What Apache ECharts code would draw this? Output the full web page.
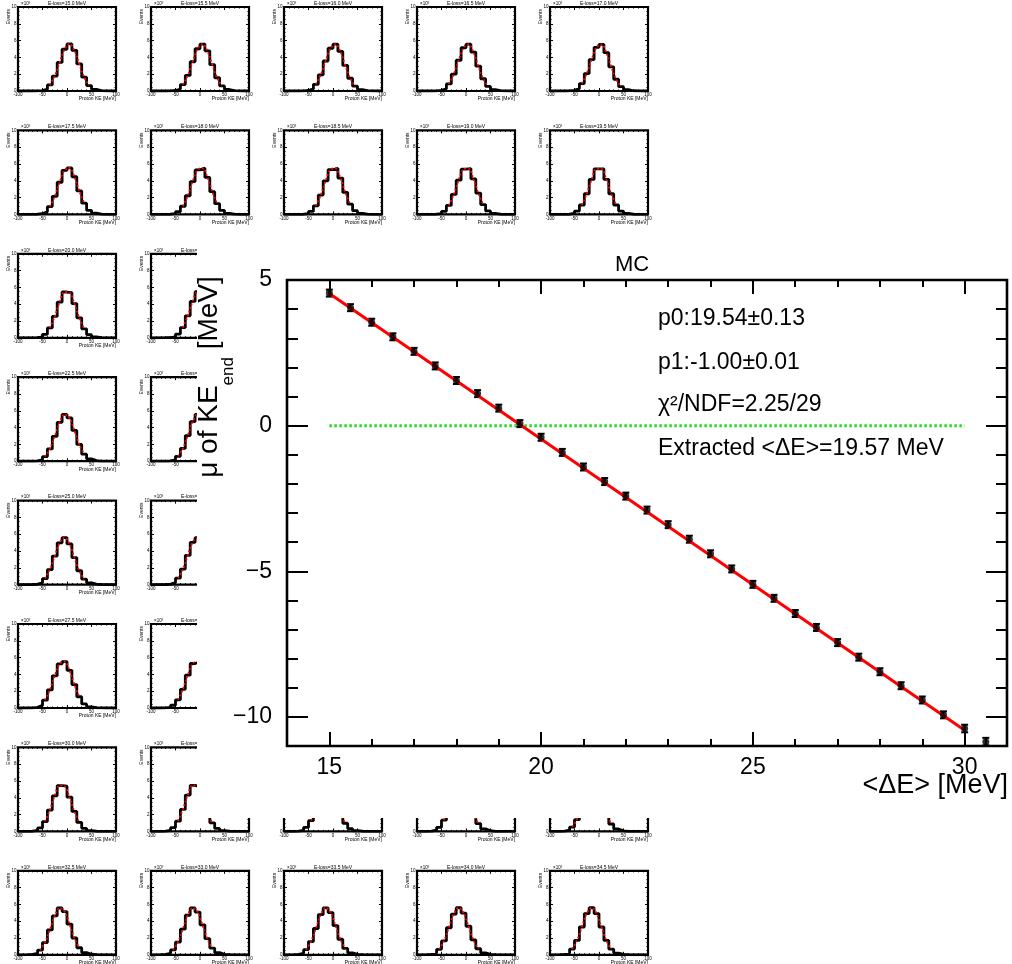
<!DOCTYPE html>
<html><head><meta charset="utf-8">
<script src="https://cdn.jsdelivr.net/npm/echarts@6/dist/echarts.min.js"></script>
<style>html,body{margin:0;padding:0;background:#fff}#c{width:1012px;height:964px}</style>
</head><body><div id="c"></div>
<script>
// ---------------- data ----------------
const eLoss = [15.0,15.5,16.0,16.5,17.0,17.5,18.0,18.5,19.0,19.5,20.0,20.5,21.0,21.5,22.0,22.5,23.0,23.5,24.0,24.5,
               25.0,25.5,26.0,26.5,27.0,27.5,28.0,28.5,29.0,29.5,30.0,30.5,31.0,31.5,32.0,32.5,33.0,33.5,34.0,34.5];
const binEdges = [-100,-90,-80,-70,-60,-50,-40,-30,-20,-10,0,10,20,30,40,50,60,70,80,90,100];
// events per 10 MeV bin, in units of 10^3
const histCounts = [
 [0,0,0,0.01,0.05,0.22,0.72,1.78,3.40,4.97,5.60,4.84,3.22,1.65,0.65,0.20,0.05,0.01,0,0],
 [0,0,0,0.01,0.06,0.24,0.76,1.85,3.48,5.03,5.59,4.78,3.13,1.58,0.61,0.18,0.04,0.01,0,0],
 [0,0,0,0.01,0.06,0.25,0.80,1.92,3.57,5.09,5.58,4.71,3.05,1.52,0.58,0.17,0.04,0.01,0,0],
 [0,0,0,0.01,0.07,0.27,0.84,2.00,3.66,5.15,5.57,4.63,2.96,1.46,0.55,0.16,0.04,0.01,0,0],
 [0,0,0,0.01,0.07,0.29,0.88,2.07,3.74,5.20,5.55,4.56,2.88,1.40,0.52,0.15,0.03,0.01,0,0],
 [0,0,0,0.02,0.08,0.31,0.93,2.15,3.83,5.25,5.53,4.48,2.79,1.34,0.49,0.14,0.03,0.01,0,0],
 [0,0,0,0.02,0.08,0.33,0.97,2.22,3.91,5.30,5.51,4.40,2.71,1.28,0.47,0.13,0.03,0.01,0,0],
 [0,0,0,0.02,0.09,0.35,1.02,2.30,4.00,5.34,5.48,4.33,2.62,1.22,0.44,0.12,0.03,0.01,0,0],
 [0,0,0,0.02,0.10,0.37,1.07,2.38,4.08,5.38,5.45,4.24,2.54,1.17,0.41,0.11,0.02,0.01,0,0],
 [0,0,0,0.02,0.11,0.39,1.12,2.46,4.16,5.42,5.42,4.16,2.46,1.12,0.39,0.11,0.02,0,0,0],
 [0,0,0,0.02,0.11,0.41,1.17,2.54,4.24,5.45,5.38,4.08,2.38,1.07,0.37,0.10,0.02,0,0,0],
 [0,0,0.01,0.03,0.12,0.44,1.22,2.62,4.33,5.48,5.34,4.00,2.30,1.02,0.35,0.09,0.02,0,0,0],
 [0,0,0.01,0.03,0.13,0.47,1.28,2.71,4.40,5.51,5.30,3.91,2.22,0.97,0.33,0.08,0.02,0,0,0],
 [0,0,0.01,0.03,0.14,0.49,1.34,2.79,4.48,5.53,5.25,3.83,2.15,0.93,0.31,0.08,0.01,0,0,0],
 [0,0,0.01,0.03,0.15,0.52,1.40,2.88,4.56,5.55,5.20,3.74,2.07,0.88,0.29,0.07,0.01,0,0,0],
 [0,0,0.01,0.04,0.16,0.55,1.46,2.96,4.63,5.57,5.15,3.66,2.00,0.84,0.27,0.07,0.01,0,0,0],
 [0,0,0.01,0.04,0.17,0.58,1.52,3.05,4.71,5.58,5.09,3.57,1.92,0.80,0.25,0.06,0.01,0,0,0],
 [0,0,0.01,0.04,0.18,0.61,1.58,3.13,4.78,5.59,5.03,3.48,1.85,0.76,0.24,0.06,0.01,0,0,0],
 [0,0,0.01,0.05,0.20,0.65,1.65,3.22,4.84,5.60,4.97,3.40,1.78,0.72,0.22,0.05,0.01,0,0,0],
 [0,0,0.01,0.05,0.21,0.68,1.71,3.31,4.91,5.60,4.91,3.31,1.71,0.68,0.21,0.05,0.01,0,0,0],
 [0,0,0.01,0.05,0.22,0.72,1.78,3.40,4.97,5.60,4.84,3.22,1.65,0.65,0.20,0.05,0.01,0,0,0],
 [0,0,0.01,0.06,0.24,0.76,1.85,3.48,5.03,5.59,4.78,3.13,1.58,0.61,0.18,0.04,0.01,0,0,0],
 [0,0,0.01,0.06,0.25,0.80,1.92,3.57,5.09,5.58,4.71,3.05,1.52,0.58,0.17,0.04,0.01,0,0,0],
 [0,0,0.01,0.07,0.27,0.84,2.00,3.66,5.15,5.57,4.63,2.96,1.46,0.55,0.16,0.04,0.01,0,0,0],
 [0,0,0.01,0.07,0.29,0.88,2.07,3.74,5.20,5.55,4.56,2.88,1.40,0.52,0.15,0.03,0.01,0,0,0],
 [0,0,0.02,0.08,0.31,0.93,2.15,3.83,5.25,5.53,4.48,2.79,1.34,0.49,0.14,0.03,0.01,0,0,0],
 [0,0,0.02,0.08,0.33,0.97,2.22,3.91,5.30,5.51,4.40,2.71,1.28,0.47,0.13,0.03,0.01,0,0,0],
 [0,0,0.02,0.09,0.35,1.02,2.30,4.00,5.34,5.48,4.33,2.62,1.22,0.44,0.12,0.03,0.01,0,0,0],
 [0,0,0.02,0.10,0.37,1.07,2.38,4.08,5.38,5.45,4.24,2.54,1.17,0.41,0.11,0.02,0.01,0,0,0],
 [0,0,0.02,0.11,0.39,1.12,2.46,4.16,5.42,5.42,4.16,2.46,1.12,0.39,0.11,0.02,0,0,0,0],
 [0,0,0.02,0.11,0.41,1.17,2.54,4.24,5.45,5.38,4.08,2.38,1.07,0.37,0.10,0.02,0,0,0,0],
 [0,0.01,0.03,0.12,0.44,1.22,2.62,4.33,5.48,5.34,4.00,2.30,1.02,0.35,0.09,0.02,0,0,0,0],
 [0,0.01,0.03,0.13,0.47,1.28,2.71,4.40,5.51,5.30,3.91,2.22,0.97,0.33,0.08,0.02,0,0,0,0],
 [0,0.01,0.03,0.14,0.49,1.34,2.79,4.48,5.53,5.25,3.83,2.15,0.93,0.31,0.08,0.01,0,0,0,0],
 [0,0.01,0.03,0.15,0.52,1.40,2.88,4.56,5.55,5.20,3.74,2.07,0.88,0.29,0.07,0.01,0,0,0,0],
 [0,0.01,0.04,0.16,0.55,1.46,2.96,4.63,5.57,5.15,3.66,2.00,0.84,0.27,0.07,0.01,0,0,0,0],
 [0,0.01,0.04,0.17,0.58,1.52,3.05,4.71,5.58,5.09,3.57,1.92,0.80,0.25,0.06,0.01,0,0,0,0],
 [0,0.01,0.04,0.18,0.61,1.58,3.13,4.78,5.59,5.03,3.48,1.85,0.76,0.24,0.06,0.01,0,0,0,0],
 [0,0.01,0.05,0.20,0.65,1.65,3.22,4.84,5.60,4.97,3.40,1.78,0.72,0.22,0.05,0.01,0,0,0,0],
 [0,0.01,0.05,0.21,0.68,1.71,3.31,4.91,5.60,4.91,3.31,1.71,0.68,0.21,0.05,0.01,0,0,0,0]
];
const smallXTicks = [-100,-50,0,50,100];
const smallYTicks = [0,2,4,6,8,10];

const deltaE = [15,15.5,16,16.5,17,17.5,18,18.5,19,19.5,20,20.5,21,21.5,22,22.5,
                23,23.5,24,24.5,25,25.5,26,26.5,27,27.5,28,28.5,29,29.5,30,30.5];
const muEnd = [4.55,4.05,3.55,3.05,2.55,2.05,1.55,1.10,0.60,0.07,-0.40,-0.92,-1.42,-1.92,-2.42,-2.90,
               -3.40,-3.90,-4.40,-4.92,-5.45,-5.93,-6.45,-6.93,-7.45,-7.95,-8.45,-8.93,-9.42,-9.93,-10.40,-10.85];
const muErr = [0.12,0.12,0.12,0.12,0.12,0.12,0.12,0.12,0.12,0.12,0.12,0.12,0.12,0.12,0.12,0.12,
               0.12,0.12,0.12,0.12,0.12,0.12,0.12,0.12,0.12,0.12,0.12,0.12,0.12,0.12,0.13,0.13];
const fitLineX = [15, 30];
const fitLineY = [4.54, -10.46];
const zeroLineX = [15, 30];
const zeroLineY = [0, 0];
const bigXTicks = [15, 20, 25, 30];
const bigYTicks = [-10, -5, 0, 5];
const statLines = ['p0:19.54\u00b10.13', 'p1:-1.00\u00b10.01', '\u03c7\u00b2/NDF=2.25/29', 'Extracted <\u0394E>=19.57 MeV'];

// ---------------- layout ----------------
const FONT = 'Liberation Sans, Arial, Helvetica, sans-serif';
const P = {x0: 18, dx: 133, y0: 7, dy: 123.4, w: 98, h: 84};
const BIG = {left: 287, top: 280, width: 720, height: 466};
const COVER = {x: 197, y: 238, w: 815, h: 580};

const grid = [], xAxis = [], yAxis = [], series = [], graphic = [];
const binCenters = binEdges.slice(0, -1).map((e, k) => (e + binEdges[k + 1]) / 2);
const noLine = {show: false, onZero: false};

eLoss.forEach((e, i) => {
  const r = Math.floor(i / 5), c = i % 5;
  const left = P.x0 + c * P.dx, top = P.y0 + r * P.dy;
  grid.push({left, top, width: P.w, height: P.h, show: true, borderColor: '#000', borderWidth: 2.2,
             backgroundColor: 'rgba(0,0,0,0)', z: 0});
  const tick = {inside: true, length: 3, lineStyle: {color: '#000', width: 1}};
  const minorX = {show: true, splitNumber: 5, length: 1.5, lineStyle: {color: '#000', width: 1}};
  const minorY = {show: true, splitNumber: 4, length: 1.5, lineStyle: {color: '#000', width: 1}};
  const lab = {fontSize: 4.5, color: '#000', fontFamily: FONT, showMinLabel: true, showMaxLabel: true};
  xAxis.push({gridIndex: i, type: 'value', position: 'bottom', min: -100, max: 100, interval: 50,
    axisLine: noLine, axisTick: tick, minorTick: minorX, splitLine: {show: false},
    axisLabel: Object.assign({margin: 1.5}, lab), z: 0});
  xAxis.push({gridIndex: i, type: 'value', position: 'top', min: -100, max: 100, interval: 50,
    axisLine: noLine, axisTick: tick, minorTick: minorX, splitLine: {show: false},
    axisLabel: {show: false}, z: 0});
  yAxis.push({gridIndex: i, type: 'value', position: 'left', min: 0, max: 10, interval: 2,
    axisLine: noLine, axisTick: tick, minorTick: minorY, splitLine: {show: false},
    axisLabel: Object.assign({margin: 1.5}, lab), z: 0});
  yAxis.push({gridIndex: i, type: 'value', position: 'right', min: 0, max: 10, interval: 2,
    axisLine: noLine, axisTick: tick, minorTick: minorY, splitLine: {show: false},
    axisLabel: {show: false}, z: 0});
  const counts = histCounts[i];
  series.push({type: 'line', xAxisIndex: 2 * i, yAxisIndex: 2 * i, step: 'end', symbol: 'none',
    data: binEdges.map((x, k) => [x, counts[Math.min(k, counts.length - 1)]]),
    lineStyle: {color: '#000', width: 2.8}, z: 2, silent: true, animation: false});
  series.push({type: 'line', xAxisIndex: 2 * i, yAxisIndex: 2 * i, smooth: 0.4, symbol: 'none',
    data: binCenters.map((x, k) => [x, counts[k]]).filter(p => p[1] >= 0.5),
    lineStyle: {color: '#ff0000', width: 1.8, type: [2, 2]}, z: 3, silent: true, animation: false});
  const t = {fill: '#000', fontFamily: FONT, fontSize: 5};
  graphic.push({type: 'text', x: left + P.w / 2, y: top - 3.5, z: 5,
    style: Object.assign({text: 'E-loss=' + e.toFixed(1) + ' MeV', align: 'center', verticalAlign: 'middle'}, t)});
  graphic.push({type: 'text', x: left + 3, y: top - 3.5, z: 5,
    style: Object.assign({text: '\u00d710\u00b3', align: 'left', verticalAlign: 'middle'}, t, {fontSize: 4.5})});
  graphic.push({type: 'text', x: left - 9, y: top + 2, rotation: Math.PI / 2, z: 5,
    style: Object.assign({text: 'Events', align: 'right', verticalAlign: 'middle'}, t)});
  graphic.push({type: 'text', x: left + P.w, y: top + P.h + 8, z: 5,
    style: Object.assign({text: 'Proton KE [MeV]', align: 'right', verticalAlign: 'middle'}, t)});
});

// white cover for the summary pad
graphic.push({type: 'rect', shape: {x: COVER.x, y: COVER.y, width: COVER.w, height: COVER.h},
  style: {fill: '#fff'}, z: 100});

// ---------------- summary plot ----------------
const gi = grid.length;
grid.push(Object.assign({show: true, borderColor: '#000', borderWidth: 2.6, backgroundColor: 'rgba(0,0,0,0)', z: 110}, BIG));
const minus = v => (v < 0 ? '\u2212' + (-v) : String(v));
const bigLab = {fontSize: 23, color: '#000', fontFamily: FONT};
const xi = xAxis.length, yi = yAxis.length;
const bx = (pos, major, labels) => ({gridIndex: gi, type: 'value', position: pos, min: 14, max: 31,
  interval: major ? undefined : 1,
  axisLine: noLine, splitLine: {show: false}, z: 111,
  axisTick: Object.assign({inside: true, length: major ? 14 : 7, lineStyle: {color: '#000', width: 2}},
                          major ? {customValues: bigXTicks} : {}),
  axisLabel: labels ? Object.assign({customValues: bigXTicks, margin: 10, formatter: minus}, bigLab) : {show: false}});
xAxis.push(bx('bottom', true, true), bx('bottom', false, false), bx('top', true, false), bx('top', false, false));
const by = (pos, major, labels) => ({gridIndex: gi, type: 'value', position: pos, min: -11, max: 5,
  interval: major ? undefined : 1,
  axisLine: noLine, splitLine: {show: false}, z: 111,
  axisTick: Object.assign({inside: true, length: major ? 21 : 11, lineStyle: {color: '#000', width: 2}},
                          major ? {customValues: bigYTicks} : {}),
  axisLabel: labels ? Object.assign({customValues: bigYTicks, margin: 15, formatter: minus}, bigLab) : {show: false}});
yAxis.push(by('left', true, true), by('left', false, false), by('right', true, false), by('right', false, false));

series.push({type: 'line', xAxisIndex: xi, yAxisIndex: yi, symbol: 'none', z: 120, silent: true,
  data: zeroLineX.map((x, k) => [x, zeroLineY[k]]),
  lineStyle: {color: '#22dd22', width: 3, type: [2.5, 2.5]}});
series.push({type: 'custom', xAxisIndex: xi, yAxisIndex: yi, z: 121, silent: true, clip: true,
  data: deltaE.map((x, k) => [x, muEnd[k] - muErr[k], muEnd[k] + muErr[k]]),
  renderItem: (params, api) => {
    const lo = api.coord([api.value(0), api.value(1)]);
    const hi = api.coord([api.value(0), api.value(2)]);
    const cw = 3.5, st = {stroke: '#000', lineWidth: 2};
    return {type: 'group', children: [
      {type: 'line', shape: {x1: lo[0], y1: lo[1], x2: hi[0], y2: hi[1]}, style: st},
      {type: 'line', shape: {x1: lo[0] - cw, y1: lo[1], x2: lo[0] + cw, y2: lo[1]}, style: st},
      {type: 'line', shape: {x1: hi[0] - cw, y1: hi[1], x2: hi[0] + cw, y2: hi[1]}, style: st}]};
  }});
series.push({type: 'line', xAxisIndex: xi, yAxisIndex: yi, symbol: 'none', z: 122, silent: true,
  data: fitLineX.map((x, k) => [x, fitLineY[k]]),
  lineStyle: {color: '#ff0000', width: 3}});
series.push({type: 'scatter', xAxisIndex: xi, yAxisIndex: yi, z: 123, silent: true,
  symbol: 'circle', symbolSize: 7, itemStyle: {color: '#000'},
  data: deltaE.map((x, k) => [x, muEnd[k]])});

// texts of the summary pad
const T = {fill: '#000', fontFamily: FONT};
graphic.push({type: 'text', x: 632, y: 265, z: 130,
  style: Object.assign({text: 'MC', fontSize: 22, align: 'center', verticalAlign: 'middle'}, T)});
const statY = [319, 363, 405, 449];
statLines.forEach((s, k) => graphic.push({type: 'text', x: 658, y: statY[k], z: 130,
  style: Object.assign({text: s, fontSize: 23, align: 'left', verticalAlign: 'middle'}, T)}));
graphic.push({type: 'text', x: 1008, y: 786, z: 130,
  style: Object.assign({text: '<\u0394E> [MeV]', fontSize: 27, align: 'right', verticalAlign: 'middle'}, T)});

// rotated y title with subscript
const mctx = document.createElement('canvas').getContext('2d');
const tw = (s, f) => { mctx.font = f + 'px ' + FONT; return mctx.measureText(s).width; };
const YT = {main: 28, sub: 17, xMain: 209, xSub: 228, yc: 377};
const w1 = tw('\u03bc of KE', YT.main), w2 = tw('end', YT.sub), w3 = tw(' [MeV]', YT.main);
const y0 = YT.yc + (w1 + w2 + w3) / 2;
graphic.push({type: 'text', x: YT.xMain, y: y0, rotation: Math.PI / 2, z: 130,
  style: Object.assign({text: '\u03bc of KE', fontSize: YT.main, align: 'left', verticalAlign: 'middle'}, T)});
graphic.push({type: 'text', x: YT.xSub, y: y0 - w1, rotation: Math.PI / 2, z: 130,
  style: Object.assign({text: 'end', fontSize: YT.sub, align: 'left', verticalAlign: 'middle'}, T)});
graphic.push({type: 'text', x: YT.xMain, y: y0 - w1 - w2, rotation: Math.PI / 2, z: 130,
  style: Object.assign({text: ' [MeV]', fontSize: YT.main, align: 'left', verticalAlign: 'middle'}, T)});

const chart = echarts.init(document.getElementById('c'), null, {renderer: 'canvas', width: 1012, height: 964});
chart.setOption({animation: false, backgroundColor: '#fff', grid, xAxis, yAxis, series, graphic});
</script></body></html>
